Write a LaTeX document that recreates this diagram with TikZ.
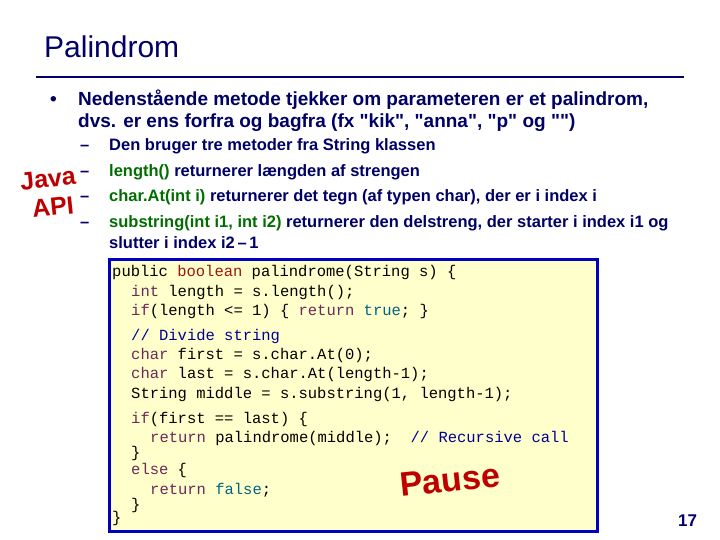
\documentclass[tikz,border=0pt]{standalone}
\usepackage{fontspec}
\setmainfont{Liberation Sans}
\newfontfamily\qf{Liberation Sans}
\newfontfamily\codefont{Liberation Mono}
\definecolor{navy}{RGB}{0,0,102}
\definecolor{apigreen}{RGB}{0,110,0}
\definecolor{jred}{RGB}{190,0,0}
\definecolor{kwred}{RGB}{160,20,20}
\definecolor{kwpur}{RGB}{110,40,90}
\definecolor{kwteal}{RGB}{0,100,130}
\definecolor{cmt}{RGB}{0,0,150}
\definecolor{boxbg}{RGB}{255,255,204}
\definecolor{boxline}{RGB}{0,0,190}
\newcommand{\kr}[1]{\textcolor{kwred}{#1}}
\newcommand{\kp}[1]{\textcolor{kwpur}{#1}}
\newcommand{\kt}[1]{\textcolor{kwteal}{#1}}
\newcommand{\kc}[1]{\textcolor{cmt}{#1}}
\newcommand{\ag}[1]{\textcolor{apigreen}{#1}}
\newcommand{\q}{{\qf\bfseries\char34}}
\begin{document}
\begin{tikzpicture}[x=1pt,y=-1pt,
  tx/.style={anchor=base west,inner sep=0pt,text=navy},
  sub/.style={tx,font=\fontsize{16.5}{19}\selectfont\bfseries},
  dsh/.style={tx,font=\fontsize{16.5}{19}\selectfont\bfseries},
  code/.style={anchor=base west,inner sep=0pt,font=\codefont\fontsize{15.5}{19}\selectfont},
  red/.style={text=jred,font=\fontsize{25}{27}\selectfont\bfseries,rotate=6,inner sep=0pt}]
\useasboundingbox[fill=white] (0,0) rectangle (720,540);
\node[tx,font=\fontsize{30}{34}\selectfont] (title) at (44,58) {Palindrom};
\draw[navy,line width=2pt] (36,77) coordinate (l1) -- (684,77) coordinate (l2);
\node[tx,font=\fontsize{19}{22}\selectfont\bfseries] (b1) at (50,106) {•};
\node[tx,font=\fontsize{19}{22}\selectfont\bfseries] (t1) at (78,106) {Nedenstående metode tjekker om parameteren er et palindrom,};
\node[tx,font=\fontsize{19}{22}\selectfont\bfseries] (t2) at (78,128) {dvs. er ens forfra og bagfra (fx \q kik\q, \q anna\q, \q p\q\ og \q\q)};
\node[dsh] (d1) at (80,151) {–};
\node[dsh] (d2) at (80,177) {–};
\node[dsh] (d3) at (80,202) {–};
\node[dsh] (d4) at (80,228) {–};
\node[sub] (s1) at (109,151) {Den bruger tre metoder fra String klassen};
\node[sub] (s2) at (109,177) {\ag{length()} returnerer længden af strengen};
\node[sub] (s3) at (109,202) {\ag{char.At(int i)} returnerer det tegn (af typen char), der er i index i};
\node[sub] (s4) at (109,228) {\ag{substring(int i1, int i2)} returnerer den delstreng, der starter i index i1 og};
\node[sub] (s5) at (109,248) {slutter i index i2\,–\,1};
\node[red] (java) at (48,179) {Java};
\node[red] (api) at (53,207) {API};
\node[draw=boxline,line width=2.5pt,fill=boxbg,minimum width=488,minimum height=272,anchor=north west,inner sep=0pt] (box) at (108,258) {};
\node[code] (c1) at (112,276) {public \kr{boolean} palindrome(String s) \{};
\node[code] (c2) at (131,296) {\kp{int} length = s.length();};
\node[code] (c3) at (131,315) {\kp{if}(length <= 1) \{ \kp{return} \kt{true}; \}};
\node[code] (c4) at (131,340) {\kc{// Divide string}};
\node[code] (c5) at (131,359) {\kp{char} first = s.char.At(0);};
\node[code] (c6) at (131,378) {\kp{char} last = s.char.At(length-1);};
\node[code] (c7) at (131,398) {String middle = s.substring(1, length-1);};
\node[code] (c8) at (131,423) {\kp{if}(first == last) \{};
\node[code] (c9) at (150,442) {\kp{return} palindrome(middle);~~\kc{// Recursive call}};
\node[code] (c10) at (131,457) {\}};
\node[code] (c11) at (131,474) {\kp{else} \{};
\node[code] (c12) at (150,494) {\kp{return} \kt{false};};
\node[code] (c13) at (131,509) {\}};
\node[code] (c14) at (112,522) {\}};
\node[text=jred,font=\fontsize{34}{36}\selectfont\bfseries,rotate=6,inner sep=0pt] (pause) at (450,480) {Pause};
\node[tx,font=\fontsize{17}{20}\selectfont\bfseries] (num) at (678,526) {17};
\end{tikzpicture}
\end{document}
